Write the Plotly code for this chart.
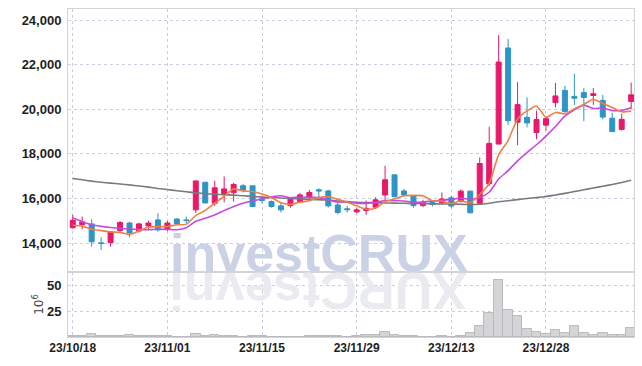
import plotly.graph_objects as go
from plotly.subplots import make_subplots

dates = [
    "2023-10-18", "2023-10-19", "2023-10-20", "2023-10-23", "2023-10-24", "2023-10-25", "2023-10-26", "2023-10-27", "2023-10-30", "2023-10-31",
    "2023-11-01", "2023-11-02", "2023-11-03", "2023-11-06", "2023-11-07", "2023-11-08", "2023-11-09", "2023-11-10", "2023-11-13", "2023-11-14",
    "2023-11-15", "2023-11-16", "2023-11-17", "2023-11-20", "2023-11-21", "2023-11-22", "2023-11-23", "2023-11-24", "2023-11-27", "2023-11-28",
    "2023-11-29", "2023-11-30", "2023-12-01", "2023-12-04", "2023-12-05", "2023-12-06", "2023-12-07", "2023-12-08", "2023-12-11", "2023-12-12",
    "2023-12-13", "2023-12-14", "2023-12-15", "2023-12-18", "2023-12-19", "2023-12-20", "2023-12-21", "2023-12-22", "2023-12-26", "2023-12-27",
    "2023-12-28", "2024-01-02", "2024-01-03", "2024-01-04", "2024-01-05", "2024-01-08", "2024-01-09", "2024-01-10", "2024-01-11", "2024-01-12",
]

opens = [14690, 14830, 14860, 14010, 14020, 14560, 14900, 14540, 14770, 15040,
         14620, 15080, 15040, 15490, 16730, 15790, 16190, 16260, 16570, 16570,
         15970, 15860, 15670, 15680, 15860, 16040, 16390, 16340, 15710, 15540,
         15400, 15460, 15610, 16160, 17060, 16340, 16130, 15680, 15820, 15820,
         16030, 15880, 16330, 15780, 16660, 18440, 22750, 19420, 19640, 18960,
         19290, 20300, 20850, 20580, 20750, 20620, 20400, 19600, 19100, 20350]
highs = [15260, 15190, 15070, 14260, 14540, 14990, 14960, 14920, 15010, 15340,
         14990, 15110, 15190, 16790, 16730, 16800, 16990, 16700, 16660, 16570,
         16090, 15910, 15790, 16050, 16250, 16390, 16460, 16390, 15820, 15670,
         15580, 15910, 16050, 17470, 17060, 16420, 16130, 15940, 15910, 16270,
         16110, 16410, 16360, 17840, 19220, 23330, 23150, 21220, 20540, 19940,
         19700, 21180, 21060, 21600, 20950, 20950, 20650, 19850, 19800, 21200]
lows = [14650, 14620, 13840, 13690, 13840, 14510, 14260, 14470, 14590, 14510,
        14530, 14810, 14900, 15350, 15780, 15670, 15830, 15860, 16270, 15610,
        15790, 15590, 15370, 15590, 15820, 15910, 15940, 15590, 15290, 15370,
        15350, 15260, 15540, 15940, 16040, 16090, 15590, 15610, 15640, 15710,
        15580, 15810, 15330, 15780, 16560, 18440, 19300, 18390, 19190, 18660,
        19050, 20080, 19850, 20200, 19470, 20200, 19550, 18990, 19050, 20000]
closes = [15020, 14950, 14060, 13980, 14500, 14920, 14450, 14860, 14900, 14590,
          14900, 14860, 15010, 16790, 15800, 16480, 16430, 16630, 16380, 15640,
          15910, 15640, 15490, 15970, 16160, 16270, 16340, 15670, 15370, 15500,
          15490, 15560, 15940, 16840, 16090, 16160, 15680, 15830, 15730, 15980,
          15660, 16330, 15360, 17570, 18470, 22120, 19490, 20210, 19390, 19540,
          19580, 20600, 19900, 20500, 20530, 20700, 19650, 19000, 19550, 20650]

ma5 = [14800, 14760, 14620, 14560, 14500, 14480, 14380, 14540, 14720, 14740,
       14740, 14820, 14850, 15230, 15470, 15790, 16100, 16430, 16340, 16310,
       16200, 16040, 15810, 15730, 15830, 15900, 16040, 16080, 15960, 15830,
       15670, 15520, 15570, 15860, 15980, 16120, 16140, 16120, 15900, 15880,
       15770, 15900, 15810, 16180, 16670, 17970, 18600, 19570, 19930, 20150,
       19640, 19860, 19800, 20020, 20220, 20450, 20260, 20080, 19890, 19920]
ma10 = [15120, 14960, 14820, 14750, 14700, 14660, 14630, 14610, 14600, 14620,
        14610, 14600, 14690, 14980, 15110, 15260, 15460, 15640, 15790, 15890,
        15990, 16070, 16120, 16030, 16070, 16050, 16040, 15940, 15840, 15830,
        15790, 15780, 15820, 15910, 15900, 15890, 15830, 15840, 15880, 15930,
        15950, 16020, 15960, 16040, 16280, 16870, 17250, 17690, 18060, 18410,
        18800, 19230, 19690, 19980, 20190, 20040, 20060, 19940, 19960, 20070]
ma60 = [16900, 16840, 16780, 16730, 16690, 16650, 16610, 16560, 16510, 16450,
        16400, 16350, 16300, 16250, 16220, 16190, 16170, 16150, 16120, 16090,
        16060, 16040, 16020, 16000, 15980, 15965, 15950, 15920, 15890, 15860,
        15830, 15820, 15810, 15800, 15790, 15785, 15780, 15770, 15760, 15755,
        15750, 15740, 15730, 15740, 15790, 15850, 15900, 15950, 16000, 16040,
        16090, 16160, 16230, 16310, 16390, 16470, 16550, 16630, 16720, 16820]

volume = [1.0, 0.8, 2.5, 1.2, 1.0, 1.2, 2.2, 1.2, 1.0, 1.2,
          0.5, 0.3, 0.4, 2.5, 1.2, 2.2, 1.2, 1.0, 0.4, 1.0,
          0.8, 0.3, 0.3, 0.2, 0.3, 0.9, 1.0, 1.0, 1.0, 0.3,
          1.0, 2.2, 1.5, 4.9, 2.2, 1.2, 1.2, 0.4, 0.4, 1.2,
          0.4, 1.2, 3.4, 10.5, 23.5, 55.0, 26.2, 19.8, 7.7, 5.2,
          3.1, 6.8, 4.0, 10.5, 4.0, 2.2, 4.0, 2.2, 2.2, 8.6]

tick_dates = ["2023-10-18", "2023-11-01", "2023-11-15", "2023-11-29", "2023-12-13", "2023-12-28"]
tick_labels = ["23/10/18", "23/11/01", "23/11/15", "23/11/29", "23/12/13", "23/12/28"]
price_ticks = [14000, 16000, 18000, 20000, 22000, 24000]
volume_ticks = [25, 50]

UP = "#e8186a"
DOWN = "#2e94c6"
GRID = "#c9cde0"
FRAME = "#d4d4d8"
YFONT = dict(family="Liberation Sans, Arial, sans-serif", size=13, color="#1e1e1e", weight="bold")
XFONT = dict(family="Liberation Sans, Arial, sans-serif", size=12, color="#1e1e1e", weight="bold")

fig = make_subplots(rows=2, cols=1, shared_xaxes=True, vertical_spacing=0, row_heights=[0.8, 0.2])

fig.add_trace(go.Candlestick(
    x=dates, open=opens, high=highs, low=lows, close=closes,
    increasing=dict(line=dict(color=UP, width=1), fillcolor=UP),
    decreasing=dict(line=dict(color=DOWN, width=1), fillcolor=DOWN),
    whiskerwidth=0, showlegend=False,
), row=1, col=1)

for vals, col in [(ma60, "#7a7a7a"), (ma10, "#c848e0"), (ma5, "#ee7f45")]:
    fig.add_trace(go.Scatter(x=dates, y=vals, mode="lines",
                             line=dict(color=col, width=1.6, shape="spline", smoothing=0.6),
                             showlegend=False, hoverinfo="skip"), row=1, col=1)

fig.add_trace(go.Bar(x=dates, y=volume, marker=dict(color="#d5d5d7", line=dict(color="#b9b9bd", width=1)),
                     showlegend=False), row=2, col=1)

axis_common = dict(showline=True, linecolor=FRAME, linewidth=1, mirror=True,
                   showgrid=True, gridcolor=GRID, griddash="dot", gridwidth=1,
                   zeroline=False, ticks="", automargin=False)

fig.update_xaxes(type="category", range=[-0.5, 59.3], tickvals=tick_dates, ticktext=tick_labels,
                 tickfont=XFONT, rangeslider=dict(visible=False), **axis_common)
fig.update_xaxes(showticklabels=False, row=1, col=1)

fig.update_yaxes(range=[12700, 24500], tickvals=price_ticks, tickformat=",", tickfont=YFONT,
                 ticklabelstandoff=3, domain=[0.198, 1], row=1, col=1, **axis_common)
fig.update_yaxes(range=[0, 62.5], tickvals=volume_ticks, tickfont=YFONT, ticklabelstandoff=3,
                 domain=[0, 0.198], row=2, col=1,
                 title=dict(text="10<sup>6</sup>", font=dict(family="DejaVu Sans", size=12, color="#444"), standoff=0),
                 **axis_common)

WM_FONT = "Liberation Sans, Arial, sans-serif"
fig.add_annotation(text="investCRUX", xref="paper", yref="paper", x=0.4426, y=0.162,
                   showarrow=False, font=dict(family=WM_FONT, size=52, color="#ccd2e6", weight="bold"))
fig.add_annotation(text="XURCtsevni", textangle=180, xref="paper", yref="paper", x=0.4426, y=0.045,
                   showarrow=False, font=dict(family=WM_FONT, size=52, color="#eaebf1", weight="bold"))

fig.update_layout(width=642, height=366, margin=dict(l=68, r=8, t=9, b=29, autoexpand=False),
                  paper_bgcolor="white", plot_bgcolor="white", bargap=0, boxgap=0.25,
                  showlegend=False)

fig.write_html("out.html", config={"displayModeBar": False},
               post_script="document.body.style.margin='0px';")
